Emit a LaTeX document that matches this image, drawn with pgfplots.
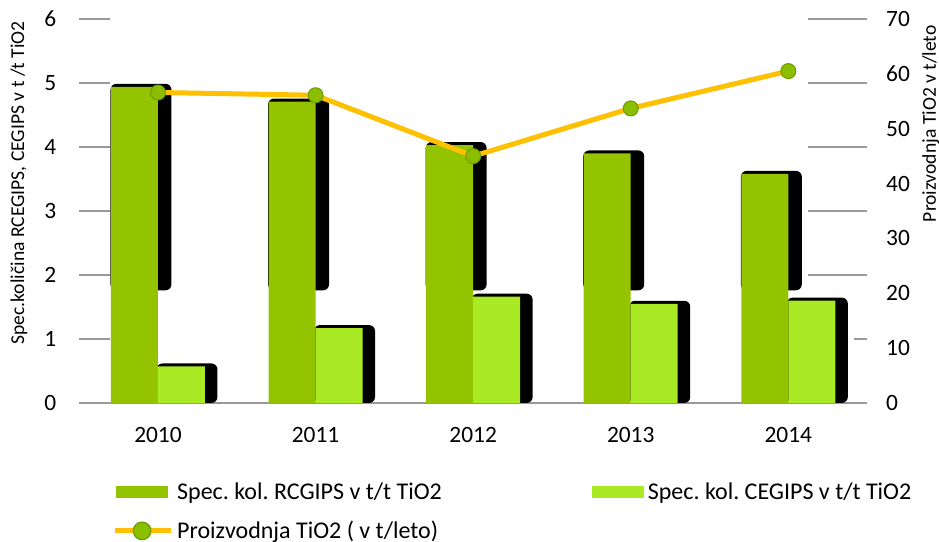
\documentclass[border=0pt]{standalone}
\usepackage{fontspec}
\setmainfont{Carlito}
\usepackage{pgfplots}
\pgfplotsset{compat=1.18}
\frenchspacing

\definecolor{rcg}{HTML}{94C400}
\definecolor{ceg}{HTML}{AAEA24}
\definecolor{tio}{HTML}{FFC000}
\definecolor{mk}{HTML}{8CBE00}
\definecolor{mkd}{HTML}{6F9A00}
\definecolor{grd}{HTML}{999999}

\pgfplotsset{
  base/.style={scale only axis, width=394pt, height=192pt,
    xmin=-0.5, xmax=4.5, ymin=0, ymax=6,
    /pgf/number format/assume math mode=true},
  patch/.style={legend image code/.code={\fill[##1] (0pt,-3.15pt) rectangle (26pt,3.15pt);}},
}

\begin{document}
\begin{tikzpicture}
% grid and the white area behind the bars
\begin{axis}[base, name=bg, clip=false,
  axis line style={draw=none}, major tick length=0pt,
  xtick=\empty, ytick={0,...,6}, yticklabels={},
  ymajorgrids, grid style={grd, line width=0.75pt}]
\addplot[fill=white, draw=none] coordinates {(-0.306,0.015) (-0.306,6.1) (4.127,6.1) (4.127,0.015)} -- cycle;
\addplot[fill=white, draw=none] coordinates {(4.12,0.015) (4.12,1.75) (4.414,1.75) (4.414,0.015)} -- cycle;
\end{axis}

% shadow of the dark bars (starts at 1.76)
\begin{axis}[base, hide axis, ybar stacked, bar width=30.5pt, bar shift=-8.5pt]
\addplot[draw=none, fill=none] coordinates {(0,1.76) (1,1.76) (2,1.76) (3,1.76) (4,1.76)};
\addplot[draw=none, fill=black, rounded corners=3pt] coordinates {(0,3.227) (1,2.997) (2,2.317) (3,2.187) (4,1.867)};
\end{axis}

% bars, left axis, legend
\begin{axis}[base, ybar, bar width=23.5pt,
  axis line style={draw=none}, major tick length=0pt,
  xtick={0,1,2,3,4}, xticklabels={2010,2011,2012,2013,2014},
  ytick={0,...,6},
  tick label style={font=\fontsize{11.7}{14}\selectfont},
  yticklabel style={xshift=-8pt}, xticklabel style={yshift=-8.5pt},
  ylabel={Spec.količina RCEGIPS, CEGIPS v t /t TiO2},
  ylabel style={at={(axis description cs:-0.057,0.573)}, anchor=south, font=\fontsize{9.8}{11}\selectfont},
  legend columns=2,
  legend style={at={(axis description cs:0,0)}, anchor=north west, xshift=13.5pt, yshift=-35.5pt,
    draw=none, fill=none, font=\fontsize{12}{14}\selectfont, row sep=5.3pt,
    /tikz/every even column/.append style={column sep=73pt}},
  legend cell align=left]
\addplot[forget plot, fill=black, draw=none, bar shift=14.5pt, bar width=30.5pt, rounded corners=3pt]
  coordinates {(0,0.617) (1,1.217) (2,1.707) (3,1.597) (4,1.647)};
\addplot[fill=rcg, draw=none, bar shift=-11.75pt, patch]
  coordinates {(0,4.94) (1,4.71) (2,4.03) (3,3.90) (4,3.58)};
\addplot[fill=ceg, draw=none, bar shift=11.75pt, patch]
  coordinates {(0,0.57) (1,1.17) (2,1.66) (3,1.55) (4,1.60)};
\addlegendimage{legend image code/.code={
  \draw[tio, line width=2.5pt] (-0.5pt,0pt) -- (27.3pt,0pt);
  \filldraw[fill=mk, draw=mkd, line width=0.6pt] (13pt,0pt) circle (4.4pt);}}
\legend{Spec. kol. RCGIPS v t/t TiO2, Spec. kol. CEGIPS v t/t TiO2, Proizvodnja TiO2 ( v t/leto)}
\end{axis}

% production line, right axis
\begin{axis}[base, ymin=0, ymax=70, clip=false,
  axis x line=none, axis y line*=right, axis line style={draw=none}, major tick length=0pt,
  ytick={0,10,...,70},
  tick label style={font=\fontsize{11.7}{14}\selectfont},
  yticklabel style={xshift=6pt}]
\addplot[tio, line width=2.5pt, mark=*, mark size=3.75pt, mark options={fill=mk, draw=mkd, line width=0.5pt}]
  coordinates {(0,56.6) (1,56.1) (2,45.0) (3,53.7) (4,60.5)};
\node[rotate=90, anchor=north east, font=\fontsize{9.8}{11}\selectfont] at (rel axis cs:1.061,1.002) {Proizvodnja TiO2 v t/leto};
\end{axis}

\pgfresetboundingbox
\path ([xshift=-39.6pt,yshift=-69.5pt]bg.south west) rectangle ([xshift=35.95pt,yshift=9.5pt]bg.north east);
\end{tikzpicture}
\end{document}
